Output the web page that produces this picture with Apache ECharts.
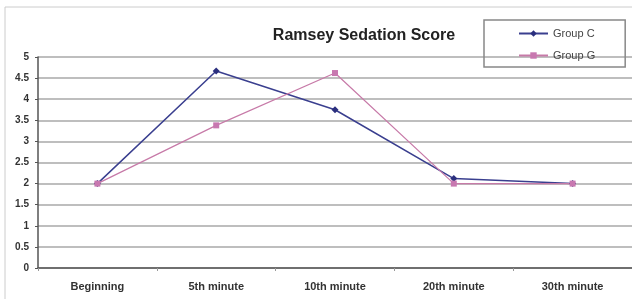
<!DOCTYPE html>
<html>
<head>
<meta charset="utf-8">
<script src="https://cdn.jsdelivr.net/npm/echarts@6/dist/echarts.min.js"></script>
<style>
  html, body { margin: 0; padding: 0; background: #fff; }
  #chart { width: 632px; height: 299px; }
</style>
</head>
<body>
<div id="chart"></div>
<script>
var categories = ['Beginning', '5th minute', '10th minute', '20th minute', '30th minute'];
var groupC = [2.0, 4.67, 3.75, 2.12, 2.0];
var groupG = [2.0, 3.38, 4.62, 2.0, 2.0];
var yTicks = [0, 0.5, 1, 1.5, 2, 2.5, 3, 3.5, 4, 4.5, 5];

var chart = echarts.init(document.getElementById('chart'));

var labelFont = {
    fontFamily: 'Liberation Sans, Arial, sans-serif',
    fontWeight: 'bold',
    fontSize: 10,
    color: '#333'
};

var option = {
    animation: false,
    backgroundColor: '#fff',
    title: {
        text: 'Ramsey Sedation Score',
        left: 359,
        textAlign: 'center',
        top: 23,
        textStyle: {
            fontFamily: 'Liberation Sans, Arial, sans-serif',
            fontWeight: 'bold',
            fontSize: 16,
            color: '#222'
        }
    },
    legend: {
        orient: 'vertical',
        left: 484,
        top: 20,
        padding: [8, 30, 6, 34],
        itemGap: 11,
        itemWidth: 29,
        itemHeight: 8,
        borderColor: '#888',
        borderWidth: 1.5,
        textStyle: {
            fontFamily: 'Liberation Sans, Arial, sans-serif',
            fontSize: 11,
            color: '#444'
        },
        data: ['Group C', 'Group G']
    },
    graphic: [{
        type: 'rect',
        shape: { x: 5, y: 7, width: 640, height: 300 },
        style: { fill: 'none', stroke: '#ccc', lineWidth: 1 },
        silent: true
    }],
    grid: {
        left: 38,
        right: -1,
        top: 57,
        bottom: 31
    },
    xAxis: {
        type: 'category',
        data: categories,
        boundaryGap: true,
        axisLine: { lineStyle: { color: '#555', width: 1.5 } },
        axisTick: { show: true, length: 3, lineStyle: { color: '#999' } },
        axisLabel: Object.assign({}, labelFont, { margin: 13, fontSize: 11 }),
        splitLine: { show: false }
    },
    yAxis: {
        type: 'value',
        min: 0,
        max: 5,
        interval: 0.5,
        axisLine: { show: true, lineStyle: { color: '#555', width: 1.5 } },
        axisTick: { show: true, length: 3, lineStyle: { color: '#555' } },
        axisLabel: Object.assign({
            margin: 9,
            formatter: function(v) {
                return yTicks.indexOf(v) >= 0 ? String(v) : '';
            }
        }, labelFont),
        splitLine: { lineStyle: { color: '#a8a8a8', width: 1.5 } }
    },
    series: [{
        name: 'Group C',
        type: 'line',
        data: groupC,
        symbol: 'diamond',
        symbolSize: 7,
        color: '#2b2f7e',
        lineStyle: { width: 1.5, color: '#3a3f8f' },
        itemStyle: { color: '#2b2f7e' }
    }, {
        name: 'Group G',
        type: 'line',
        data: groupG,
        symbol: 'rect',
        symbolSize: 6,
        color: '#c878b0',
        lineStyle: { width: 1.2, color: '#c77aa8' },
        itemStyle: { color: '#c878b0' }
    }]
};

chart.setOption(option);
</script>
</body>
</html>
